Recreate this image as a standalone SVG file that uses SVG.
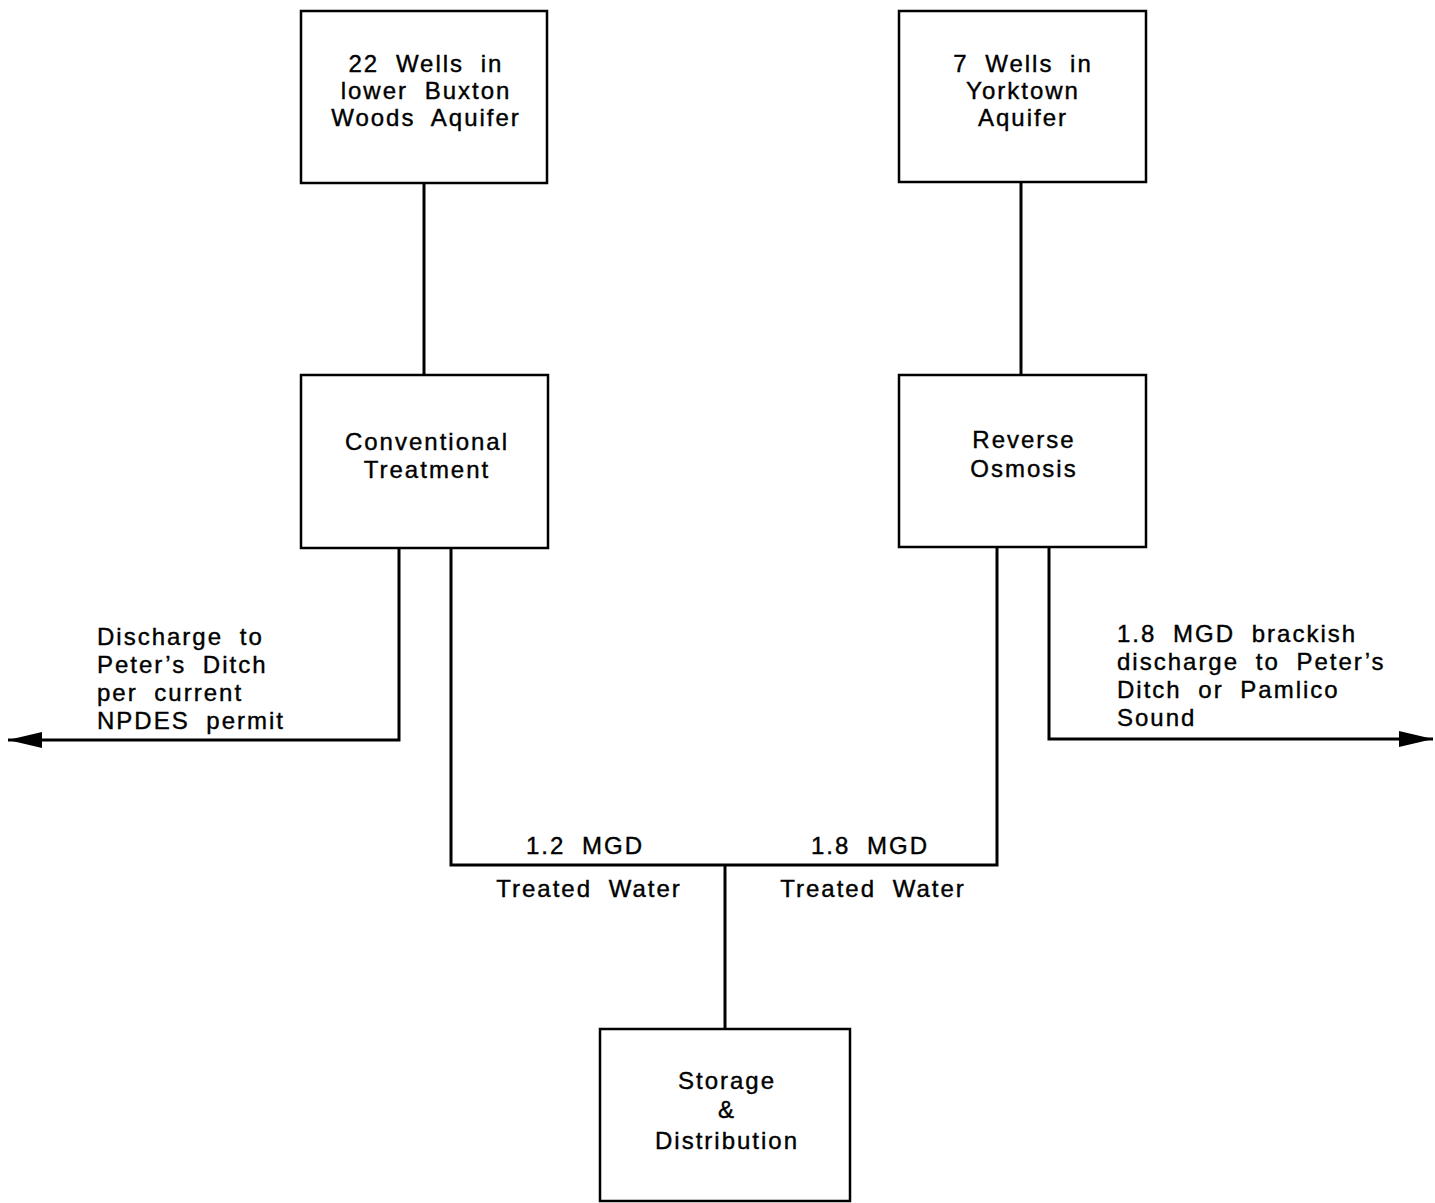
<svg xmlns="http://www.w3.org/2000/svg" width="1435" height="1203" viewBox="0 0 1435 1203">
<defs>
<style>
.box{fill:#fff;stroke:#000;stroke-width:2.5}
.ln{fill:none;stroke:#000;stroke-width:3}
text{font-family:"Liberation Sans",Arial,sans-serif;font-size:24px;fill:#000;letter-spacing:2px;word-spacing:8px;stroke:#000;stroke-width:0.4}
.c{text-anchor:middle}
</style>
<marker id="ah" viewBox="0 0 34 16" refX="34" refY="8" markerWidth="34" markerHeight="16" markerUnits="userSpaceOnUse" orient="auto">
<path d="M0,0 L34,8 L0,16 Z" fill="#000"/>
</marker>
</defs>
<rect width="1435" height="1203" fill="#fff"/>
<g id="connectors">
<path class="ln" d="M424,183 V375"/>
<path class="ln" d="M1021,182 V375"/>
<path class="ln" d="M399,548 V740 H8" marker-end="url(#ah)"/>
<path class="ln" d="M1049,547 V739 H1433" marker-end="url(#ah)"/>
<path class="ln" d="M451,548 V865 H997 V547"/>
<path class="ln" d="M725,865 V1029"/>
</g>
<g id="node-wells-buxton">
<rect class="box" x="301" y="11" width="246" height="172"/>
<text class="c" x="426" y="72">22 Wells in</text>
<text class="c" x="426" y="99">lower Buxton</text>
<text class="c" x="426" y="126">Woods Aquifer</text>
</g>
<g id="node-wells-yorktown">
<rect class="box" x="899" y="11" width="247" height="171"/>
<text class="c" x="1023" y="72">7 Wells in</text>
<text class="c" x="1023" y="99">Yorktown</text>
<text class="c" x="1023" y="126">Aquifer</text>
</g>
<g id="node-conventional">
<rect class="box" x="301" y="375" width="247" height="173"/>
<text class="c" x="427" y="450">Conventional</text>
<text class="c" x="427" y="478">Treatment</text>
</g>
<g id="node-ro">
<rect class="box" x="899" y="375" width="247" height="172"/>
<text class="c" x="1024" y="448">Reverse</text>
<text class="c" x="1024" y="477">Osmosis</text>
</g>
<g id="node-storage">
<rect class="box" x="600" y="1029" width="250" height="172"/>
<text class="c" x="727" y="1089">Storage</text>
<text class="c" x="727" y="1118">&amp;</text>
<text class="c" x="727" y="1149">Distribution</text>
</g>
<g id="labels">
<text x="97" y="645">Discharge to</text>
<text x="97" y="673">Peter’s Ditch</text>
<text x="97" y="701">per current</text>
<text x="97" y="729">NPDES permit</text>
<text x="1117" y="642">1.8 MGD brackish</text>
<text x="1117" y="670">discharge to Peter’s</text>
<text x="1117" y="698">Ditch or Pamlico</text>
<text x="1117" y="726">Sound</text>
<text class="c" x="585" y="854">1.2 MGD</text>
<text class="c" x="870" y="854">1.8 MGD</text>
<text class="c" x="589" y="897">Treated Water</text>
<text class="c" x="873" y="897">Treated Water</text>
</g>
</svg>
